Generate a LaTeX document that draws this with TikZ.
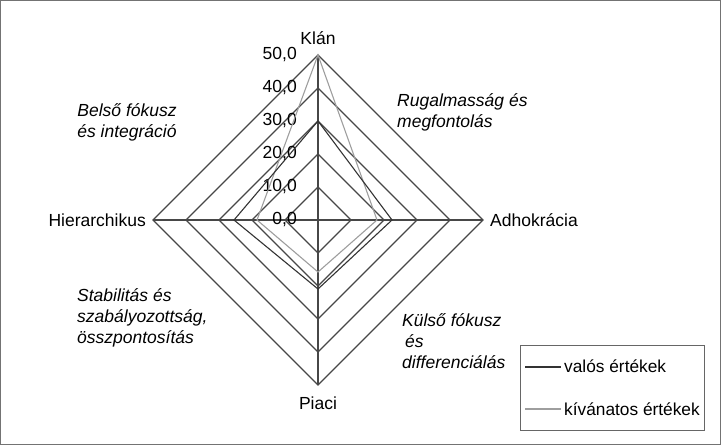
\documentclass[tikz,border=0pt]{standalone}
\usepackage{fontspec}
\setmainfont{Liberation Sans}
\begin{document}
\begin{tikzpicture}[x=1pt,y=-1pt, font=\fontsize{17.5}{21}\selectfont,
  gridline/.style={draw=black!72, line width=1.1pt},
  realline/.style={draw=black!80, line width=1.1pt},
  wishline/.style={draw=black!38, line width=1.1pt},
  axislabel/.style={inner sep=0pt},
  quad/.style={inner sep=0pt, font=\fontsize{17.5}{21}\selectfont\itshape, align=left}]
\useasboundingbox (0,0) rectangle (721,445);
\draw[black!55, line width=0.8pt] (0.5,0.5) rectangle (720.5,444.5);
\coordinate (C) at (318,220);
% grid
\foreach \r in {1,...,5}{
  \draw[gridline] (318,{220-33*\r}) -- ({318+33*\r},220) -- (318,{220+33*\r}) -- ({318-33*\r},220) -- cycle;
}
\coordinate (T) at (318,55);
\coordinate (B) at (318,385);
\coordinate (L) at (153,220);
\coordinate (R) at (483,220);
\draw[gridline] (T) -- (B);
\draw[gridline] (L) -- (R);
% value labels
\foreach \v/\t in {0/{0,0},1/{10,0},2/{20,0},3/{30,0},4/{40,0},5/{50,0}}{
  \node[anchor=east, inner sep=0pt] (v\v) at (297,{220-33*\v}) {\t};
}
% data
\draw[wishline] (318,55) -- (377,220) -- (318,272) -- (257,220) -- cycle;
\draw[realline] (318,121) -- (392,220) -- (318,289) -- (234,220) -- cycle;
% axis labels
\node[axislabel] (klan) at (318,38) {Klán};
\node[axislabel, anchor=west] (adho) at (490,220) {Adhokrácia};
\node[axislabel] (piaci) at (318,403) {Piaci};
\node[axislabel, anchor=east] (hier) at (146,220) {Hierarchikus};
% quadrant labels
\node[quad, align=center] (q1) at (127,122) {Belső fókusz\\és integráció};
\node[quad, anchor=west] (q2) at (397,112) {Rugalmasság és\\megfontolás};
\node[quad, anchor=west] (q3) at (77,318) {Stabilitás és\\szabályozottság,\\összpontosítás};
\node[quad, anchor=west] (q4) at (402,341) {Külső fókusz\\\hspace*{3pt}és\\differenciálás};
% legend
\draw[black!60, line width=0.9pt] (520,345) rectangle (704,430);
\coordinate (la1) at (525,367);
\coordinate (la2) at (561,367);
\coordinate (lb1) at (525,409);
\coordinate (lb2) at (561,409);
\draw[realline] (la1) -- (la2);
\draw[wishline] (lb1) -- (lb2);
\node[anchor=west, inner sep=0pt, font=\fontsize{17.3}{20}\selectfont] (lt1) at (564,366) {valós értékek};
\node[anchor=west, inner sep=0pt, font=\fontsize{17.3}{20}\selectfont] (lt2) at (564,409) {kívánatos értékek};
\end{tikzpicture}
\end{document}
